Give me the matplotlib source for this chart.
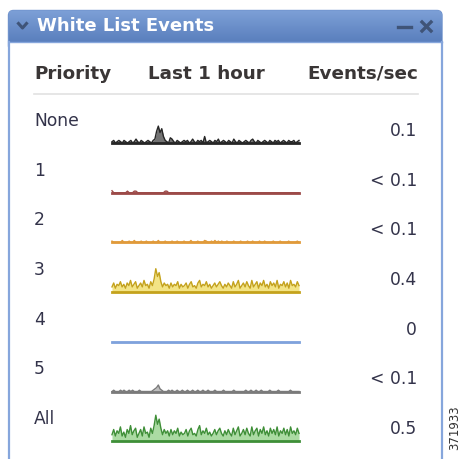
import numpy as np
import matplotlib.pyplot as plt
from matplotlib.colors import LinearSegmentedColormap
from matplotlib.patches import FancyBboxPatch, Rectangle

# rows of the widget
priorities = ['None', '1', '2', '3', '4', '5', 'All']
rates = ['0.1', '< 0.1', '< 0.1', '0.4', '0', '< 0.1', '0.5']
line_colors = ['#262626', '#9c4a48', '#e09a3a', '#c4a21c', '#7fa2dc', '#7a7a7a', '#3f8f38']
fill_colors = ['#444444', '#c08080', '#f0c880', '#efdc5c', '#b0c8ee', '#a8a8a8', '#8fd084']

# sparkline counts (last 1 hour)
s_none = [1, 2, 0, 1, 2, 1, 0, 2, 1, 0, 1, 2, 0, 1, 3, 1, 0, 2, 1, 0, 1, 2, 1, 0, 2, 3, 9, 13, 8, 11,
          5, 2, 1, 0, 4, 3, 1, 0, 2, 1, 0, 1, 2, 1, 2, 0, 1, 3, 1, 0, 2, 1, 2, 0, 5, 0, 1, 2, 1, 0,
          2, 1, 3, 0, 1, 2, 1, 0, 2, 1, 0, 3, 1, 0, 2, 1, 0, 1, 2, 1, 0, 2, 3, 1, 0, 2, 1, 0, 1, 2,
          1, 0, 2, 1, 0, 2, 1, 2, 0, 1, 2, 1, 0, 2, 1, 1, 2, 0, 1, 2]
s_p1 = [1.5, 0, 0, 0, 0, 0, 0, 0, 0, 1.2, 0, 0, 0, 1.2, 1.2, 0, 0, 0, 0, 0, 0, 0, 0, 0, 0, 0, 0, 0, 0, 0,
        0, 1.2, 1.2, 0, 0, 0, 0, 0, 0, 0, 0, 0, 0, 0, 0, 0, 0, 0, 0, 0, 0, 0, 0, 0, 0, 0, 0, 0, 0, 0,
        0, 0, 0, 0, 0, 0, 0, 0, 0, 0, 0, 0, 0, 0, 0, 0, 0, 0, 0, 0, 0, 0, 0, 0, 0, 0, 0, 0, 0, 0,
        0, 0, 0, 0, 0, 0, 0, 0, 0, 0, 0, 0, 0, 0, 0, 0, 0, 0, 0, 0]
s_p2 = [1, 0, 0, 0, 0, 0, 1.5, 0, 0, 0, 1, 0, 0, 1.5, 0, 0, 0, 1, 0, 0, 1, 0, 0, 0, 1, 0, 0, 1.5, 0, 0,
        0, 1, 0, 0, 0, 1, 0, 0, 1, 0, 0, 0, 1, 0, 0, 0, 1.5, 0, 0, 0, 1, 0, 0, 0, 1.5, 1, 0, 0, 1, 0,
        1.5, 0, 1, 0, 1, 0, 0, 1, 0, 0, 0, 1, 0, 0, 0, 1, 0, 0, 0, 1, 0, 0, 1, 0, 0, 0, 1, 0, 0, 1,
        0, 0, 0, 0, 1, 0, 0, 0, 1, 0, 0, 0, 0, 1, 0, 0, 0, 0, 1, 0]
s_p3 = [4, 7, 3, 6, 5, 8, 4, 6, 3, 7, 5, 9, 4, 6, 8, 3, 5, 7, 4, 9, 5, 6, 3, 8, 5, 10, 18, 12, 15, 8,
        4, 7, 5, 6, 3, 7, 4, 6, 5, 8, 3, 6, 4, 5, 7, 3, 6, 8, 4, 5, 3, 7, 9, 4, 6, 5, 8, 4, 6, 3,
        5, 7, 4, 6, 8, 5, 3, 6, 4, 7, 5, 3, 8, 4, 6, 9, 3, 5, 7, 4, 8, 5, 3, 9, 4, 6, 8, 3, 7, 5,
        9, 4, 6, 3, 8, 5, 7, 4, 9, 3, 6, 5, 8, 4, 7, 3, 9, 5, 6, 4, 8, 5]
s_p4 = [0] * 110
s_p5 = [0, 1, 0, 0, 0, 1, 0, 1, 0, 0, 1, 0, 1, 0, 0, 0, 1, 0, 0, 0, 0, 0, 0, 0, 1, 2, 3, 5, 2, 1,
        0, 0, 0, 1, 0, 1, 0, 0, 1, 0, 0, 1, 0, 0, 1, 0, 0, 1, 0, 0, 1, 0, 0, 1, 0, 0, 1, 0, 0, 0,
        1, 0, 0, 0, 0, 1, 0, 0, 0, 0, 0, 1, 0, 0, 0, 0, 0, 0, 1, 0, 0, 1, 0, 0, 1, 0, 0, 1, 0, 0,
        0, 0, 1, 0, 0, 0, 0, 1, 0, 0, 0, 0, 0, 0, 1, 0, 0, 0, 0, 0]
s_all = [5, 9, 4, 8, 6, 11, 4, 7, 3, 9, 6, 12, 5, 8, 10, 3, 6, 9, 4, 11, 6, 7, 3, 10, 6, 12, 20, 13, 17, 10,
         5, 9, 6, 8, 4, 9, 5, 8, 6, 10, 4, 7, 5, 6, 9, 4, 8, 10, 5, 6, 4, 9, 12, 5, 8, 6, 10, 5, 7, 4,
         6, 9, 5, 8, 10, 6, 4, 8, 5, 9, 6, 4, 10, 5, 8, 11, 4, 6, 9, 5, 10, 6, 4, 11, 5, 8, 10, 4, 9, 6,
         11, 5, 8, 4, 10, 6, 9, 5, 11, 4, 8, 6, 10, 5, 9, 4, 11, 6, 8, 5, 10, 6]
series = [s_none, s_p1, s_p2, s_p3, s_p4, s_p5, s_all]

W, H = 461, 459
fig = plt.figure(figsize=(W / 100, H / 100), dpi=100)
ax = fig.add_axes([0, 0, 1, 1])
ax.set_xlim(0, W)
ax.set_ylim(H, 0)
ax.axis('off')

# panel frame and title bar
bar = FancyBboxPatch((8.5, 10.5), 433.5, 40, boxstyle='round,pad=0,rounding_size=5',
                     facecolor='none', edgecolor='#6f92cc', lw=1)
ax.add_patch(bar)
grad = np.linspace(0, 1, 64).reshape(-1, 1)
cm = LinearSegmentedColormap.from_list('bar', ['#7da0d7', '#5a7fbd'])
im = ax.imshow(grad, extent=(8.5, 442, 42, 10.5), cmap=cm, aspect='auto', zorder=1)
im.set_clip_path(bar)
ax.add_patch(Rectangle((8.5, 42), 433.5, 420, facecolor='white', edgecolor='none', zorder=2))
ax.plot([8.5, 8.5], [42, 460], color='#86a6dc', lw=1.6, zorder=3)
ax.plot([442, 442], [42, 460], color='#86a6dc', lw=1.6, zorder=3)
ax.plot([8.5, 442], [42, 42], color='#86a6dc', lw=1, zorder=3)

ax.plot([18.5, 22.5, 26.5], [23.5, 28, 23.5], color='#3f5478', lw=2.2, zorder=4)
ax.text(37, 26, 'White List Events', color='white', fontsize=13, fontweight='bold', va='center', zorder=4)
ax.plot([398, 411], [27, 27], color='#3f5478', lw=2.4, zorder=4)
ax.plot([422, 431], [22, 31], color='#3f5478', lw=2.4, zorder=4)
ax.plot([422, 431], [31, 22], color='#3f5478', lw=2.4, zorder=4)

# headers
hdr = dict(color='#3a3636', fontsize=13.2, fontweight='bold', va='center', zorder=4)
ax.text(34, 74, 'Priority', ha='left', **hdr)
ax.text(148, 74, 'Last 1 hour', ha='left', **hdr)
ax.text(418, 74, 'Events/sec', ha='right', **hdr)
ax.plot([34, 418], [94, 94], color='#e2e2e2', lw=1.2, zorder=4)

ax.text(455, 428, '371933', rotation=90, fontsize=8.5, color='#333333', ha='center', va='center')

row_gap = 49.7
for i, (name, rate, vals) in enumerate(zip(priorities, rates, series)):
    ytop = 121 + i * row_gap
    ax.text(34, ytop, name, color='#33334a', fontsize=12.3, va='center', zorder=4)
    ax.text(417, ytop + 10, rate, color='#33334a', fontsize=12.3, ha='right', va='center', zorder=4)
    base = 143 + i * row_gap
    sp = fig.add_axes([112 / W, 1 - base / H, 187 / W, 26 / H])
    x = np.arange(len(vals))
    v = np.array(vals, dtype=float)
    sp.fill_between(x, 0, v, color=fill_colors[i], alpha=0.75, lw=0)
    sp.plot(x, v, color=line_colors[i], lw=1.0, clip_on=False)
    sp.plot([x[0], x[-1]], [0, 0], color=line_colors[i], lw=2.0, clip_on=False)
    sp.set_xlim(x[0], x[-1])
    sp.set_ylim(0, 20)
    sp.axis('off')

fig.savefig('out.png', dpi=100)
